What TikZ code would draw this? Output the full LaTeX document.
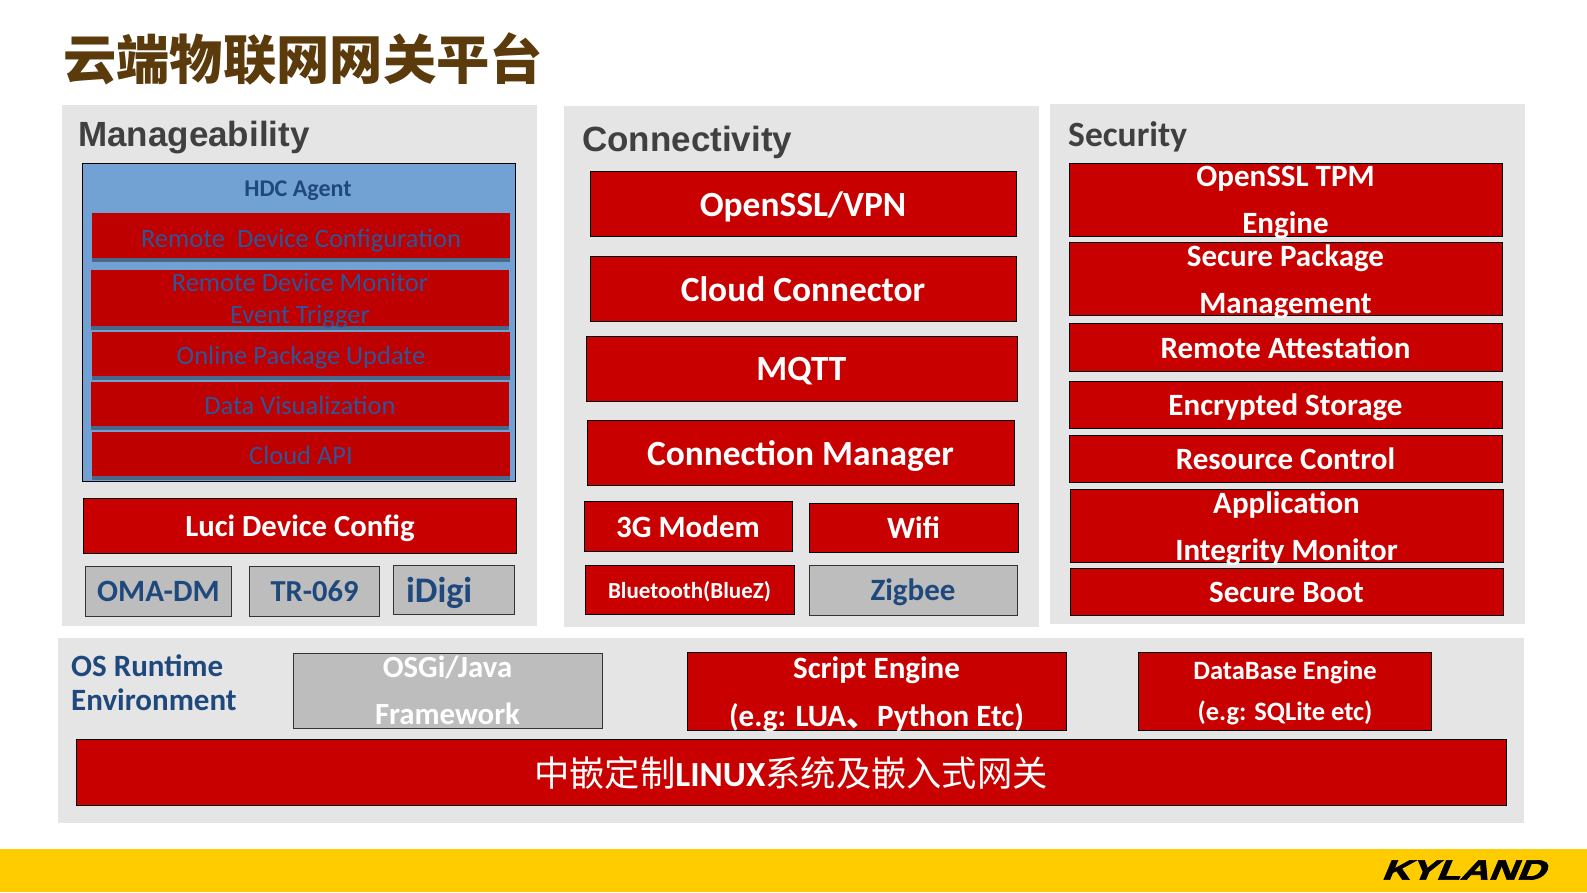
\documentclass[tikz,border=0pt]{standalone}
\usepackage{fontspec}
\setmainfont{Carlito}
\newfontfamily\cjk{Noto Sans CJK SC}
\newfontfamily\headfont{Liberation Sans}
\newfontfamily\logofont[BoldFeatures={FakeBold=2.5,FakeSlant=.3}]{Liberation Sans}
\usetikzlibrary{shadows}
\definecolor{kred}{HTML}{C80000}
\definecolor{kdeep}{HTML}{BE0000}
\definecolor{kpanel}{HTML}{E5E5E5}
\definecolor{kgrey}{HTML}{BDBDBD}
\definecolor{kblue}{HTML}{1F497D}
\definecolor{kink}{HTML}{2F5597}
\definecolor{ksky}{HTML}{72A2D4}
\definecolor{kbrown}{HTML}{5B3A0B}
\definecolor{kyellow}{HTML}{FFCC00}
\newcommand{\fsz}[2]{\fontsize{#1}{#2}\selectfont}

\begin{document}
\begin{tikzpicture}[x=1pt,y=-1pt]
\tikzstyle{panel}=[fill=kpanel,inner sep=0pt]
\tikzstyle{redbox}=[rectangle,draw=black,line width=0.8pt,fill=kred,text=white,inner sep=0pt,align=center,text depth=0pt]
\tikzstyle{greybox}=[rectangle,draw=black!80,line width=0.8pt,fill=kgrey,text=kblue,inner sep=0pt,align=center,text depth=0pt]
\tikzstyle{agentbox}=[rectangle,fill=kdeep,text=kink,inner sep=0pt,align=center,text depth=0pt,font=\fsz{26.5}{32},drop shadow={shadow xshift=0pt,shadow yshift=-4pt,opacity=.35,fill=black}]
\useasboundingbox (0,0) rectangle (1587,892);
\node[inner sep=0pt,anchor=west,text=kbrown] (title) at (63,59) {\cjk\bfseries\fsz{53.3}{60}云端物联网网关平台};
% three panels and the runtime strip
\node[panel,minimum width=475pt,minimum height=521pt] (manage) at (299.5,365.5) {};
\node[panel,minimum width=475pt,minimum height=521pt] (connect) at (801.5,366.5) {};
\node[panel,minimum width=475pt,minimum height=520pt] (secure) at (1287,364) {};
\node[panel,minimum width=1466pt,minimum height=185pt] (runtime) at (791,730.5) {};
\node[inner sep=0pt,anchor=west,text=black!75] (manage_t) at (78,138) {\headfont\bfseries\fsz{35}{40}Manageability};
\node[inner sep=0pt,anchor=west,text=black!75] (connect_t) at (582,142) {\headfont\bfseries\fsz{35}{40}Connectivity};
\node[inner sep=0pt,anchor=west,text=black!75] (secure_t) at (1068,137) {\bfseries\fsz{35.5}{40}Security};
% manageability
\node[rectangle,draw=black,line width=1pt,fill=ksky,minimum width=433pt,minimum height=318pt,inner sep=0pt] (hdc) at (298.5,322) {};
\node[inner sep=0pt,text=kblue] (hdc_t) at (298,191) {\bfseries\fsz{24}{28}HDC Agent};
\node[agentbox,minimum width=418pt,minimum height=45pt,text height=24pt] (rdc) at (301,235.5) {Remote\ \ Device Configuration};
\node[agentbox,minimum width=418pt,minimum height=56pt] (rdm) at (300,298) {Remote Device Monitor\\Event Trigger};
\node[agentbox,minimum width=418pt,minimum height=44pt,text height=20pt] (opu) at (301,354) {Online Package Update};
\node[agentbox,minimum width=418pt,minimum height=44pt,text height=20pt] (dataviz) at (300,404) {Data Visualization};
\node[agentbox,minimum width=418pt,minimum height=44pt,text height=20pt] (api) at (301,454) {Cloud API};
\node[redbox,minimum width=433pt,minimum height=55pt,font=\bfseries\fsz{30.7}{34}] (luci) at (300,526) {Luci Device Config};
\node[greybox,minimum width=146pt,minimum height=50pt,font=\bfseries\fsz{31}{34}] (oma) at (158.5,591) {OMA-DM};
\node[greybox,minimum width=130pt,minimum height=50pt,font=\bfseries\fsz{30.5}{34}] (tr069) at (314.5,591) {TR-069};
\node[greybox,minimum width=121pt,minimum height=49pt,text width=96pt,align=left,font=\bfseries\fsz{36}{38}] (idigi) at (454,589.5) {iDigi};
% connectivity
\node[redbox,minimum width=426pt,minimum height=65pt,font=\bfseries\fsz{35.4}{40}] (openssl) at (803,204) {OpenSSL/VPN};
\node[redbox,minimum width=426pt,minimum height=65pt,font=\bfseries\fsz{35.4}{40}] (cloudcon) at (803,289) {Cloud Connector};
\node[redbox,minimum width=431pt,minimum height=65pt,font=\bfseries\fsz{35.4}{40}] (mqtt) at (801.5,369) {MQTT};
\node[redbox,minimum width=427pt,minimum height=65pt,font=\bfseries\fsz{35.4}{40}] (connmgr) at (800.5,453) {Connection Manager};
\node[redbox,minimum width=208pt,minimum height=50pt,font=\bfseries\fsz{31}{34}] (modem) at (688,526.5) {3G Modem};
\node[redbox,minimum width=209pt,minimum height=49pt,font=\bfseries\fsz{31}{34}] (wifi) at (913.5,528) {Wifi};
\node[redbox,minimum width=209pt,minimum height=49pt,font=\bfseries\fsz{23}{26}] (bluez) at (689.5,589.5) {Bluetooth(BlueZ)};
\node[greybox,minimum width=208pt,minimum height=50pt,font=\bfseries\fsz{31}{34}] (zigbee) at (913,590) {Zigbee};
% security
\node[redbox,minimum width=433pt,minimum height=73pt,font=\bfseries\fsz{31}{47}] (tpm) at (1285.5,200) {OpenSSL TPM\\Engine};
\node[redbox,minimum width=433pt,minimum height=73pt,font=\bfseries\fsz{31}{47}] (spm) at (1285.5,279) {Secure Package\\Management};
\node[redbox,minimum width=433pt,minimum height=48pt,font=\bfseries\fsz{31}{34}] (attest) at (1285.5,347.5) {Remote Attestation};
\node[redbox,minimum width=433pt,minimum height=47pt,font=\bfseries\fsz{31}{34}] (storage) at (1285.5,404.5) {Encrypted Storage};
\node[redbox,minimum width=433pt,minimum height=47pt,font=\bfseries\fsz{31}{34}] (rescon) at (1285.5,459) {Resource Control};
\node[redbox,minimum width=433pt,minimum height=73pt,font=\bfseries\fsz{31}{47}] (integrity) at (1286.5,526) {Application\\Integrity Monitor};
\node[redbox,minimum width=433pt,minimum height=47pt,font=\bfseries\fsz{31}{34}] (boot) at (1286.5,592) {Secure Boot};
% runtime
\node[inner sep=0pt,anchor=west,align=left,text=kblue,font=\bfseries\fsz{31}{34}] (os_t) at (71,683) {OS Runtime\\Environment};
\node[greybox,text=white,minimum width=309pt,minimum height=75pt,font=\bfseries\fsz{30.8}{47}] (osgi) at (447.5,690.5) {OSGi/Java\\Framework};
\node[redbox,minimum width=379pt,minimum height=78pt,font=\bfseries\fsz{31}{48.5}] (script) at (876.5,691.5) {Script Engine\\(e.g: LUA{\cjk 、}Python Etc)};
\node[redbox,minimum width=293pt,minimum height=78pt,font=\bfseries\fsz{26.5}{41}] (dbase) at (1285,691) {DataBase Engine\\(e.g: SQLite etc)};
\node[redbox,minimum width=1430pt,minimum height=66pt,font=\fsz{35.3}{40}] (linux) at (791,772) {{\cjk 中嵌定制}\textbf{LINUX}{\cjk 系统及嵌入式网关}};
% footer
\node[fill=kyellow,minimum width=1587pt,minimum height=43pt,inner sep=0pt] (footer) at (793.5,870.5) {};
\node[inner sep=0pt,xscale=1.4,text=black] (logo) at (1463,870) {\logofont\bfseries\fsz{28}{30}KYLAND};
\end{tikzpicture}
\end{document}
